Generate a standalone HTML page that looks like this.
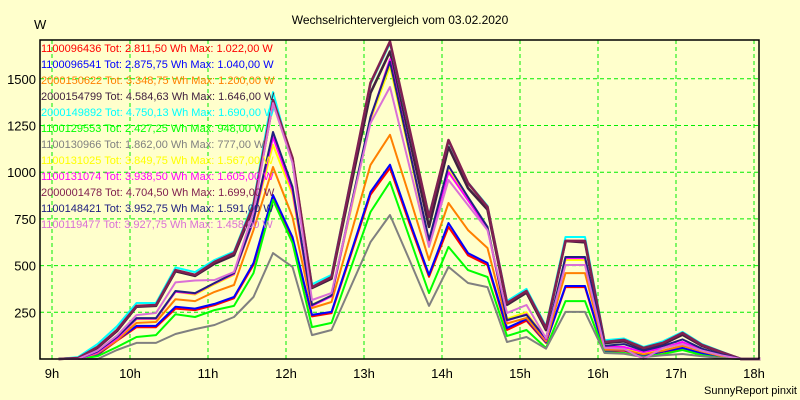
<!DOCTYPE html>
<html><head><meta charset="utf-8"><style>
body{margin:0;background:#ffffcc;}
svg{display:block;font-family:"Liberation Sans",Arial,sans-serif;}
</style></head><body>
<svg id="c" width="800" height="400">
<rect x="0" y="0" width="800" height="400" fill="#ffffcc"/>
<text x="400" y="24" text-anchor="middle" font-size="12">Wechselrichtervergleich vom 03.02.2020</text>
<text x="34" y="29" font-size="13">W</text>
<text x="797" y="394" text-anchor="end" font-size="11">SunnyReport pinxit</text>
<g id="grid"></g><g id="axes"></g><g id="series"></g><g id="legend"></g>
<rect x="40" y="40" width="719" height="319" fill="none" stroke="#000" stroke-width="1.5"/>
</svg>
<script>
const times=[];for(let i=0;i<37;i++)times.push(545+15*i); // minutes since 0:00 (9:05 .. 18:05)
const hourTicks=[9,10,11,12,13,14,15,16,17,18];
const yTicks=[250,500,750,1000,1250,1500];
const names=["1100096436","1100096541","2000150622","2000154799","2000149892","1100129553","1100130966","1100131025","1100131074","2000001478","1100148421","1100119477"];
const totals=["2.811,50","2.875,75","3.348,75","4.584,63","4.750,13","2.427,25","1.862,00","3.849,75","3.938,50","4.704,50","3.952,75","3.927,75"];
const maxes=["1.022,00","1.040,00","1.200,00","1.646,00","1.690,00","948,00","777,00","1.567,00","1.605,00","1.699,00","1.591,00","1.458,00"];
const colors=["#ff0000","#0000ff","#ff8000","#402040","#00ffff","#00ff00","#808080","#ffff00","#ff00ff","#802050","#202080","#da70d6"];
const sRed=[0,0,22,98,170,170,270,262,288,325,505,867,645,228,245,560,880,1022,725,440,707,555,503,155,205,86,385,385,40,45,18,38,55,28,8,0,0];
const sBlue=[0,0,25,102,177,177,280,270,295,332,514,878,653,236,252,570,894,1040,740,450,728,567,514,166,214,90,391,391,45,48,20,40,60,30,10,0,0];
const sOrange=[0,0,30,100,193,198,320,310,359,396,690,1028,760,273,305,670,1039,1200,870,530,835,690,594,190,220,95,460,460,50,50,25,45,70,40,15,0,0];
const sDark=[0,5,60,150,280,285,470,445,510,555,810,1375,1070,380,430,930,1424,1646,1180,707,1135,915,800,290,355,155,632,625,85,95,55,80,130,70,35,0,0];
const sCyan=[0,10,80,175,300,300,490,465,530,575,840,1429,1049,400,450,965,1470,1690,1220,770,1165,945,820,310,375,175,653,653,100,110,65,95,145,80,40,0,0];
const sGreen=[0,0,15,64,118,128,240,225,262,284,460,851,621,171,193,490,787,948,650,353,600,476,439,123,155,59,310,310,35,32,11,27,48,21,5,0,0];
const sGrey=[0,0,0,48,86,86,134,160,182,225,332,567,493,128,155,390,626,771,530,284,493,407,385,91,118,55,252,252,32,28,10,20,27,15,5,0,0];
const sYellow=[0,0,35,110,212,212,360,345,400,450,740,1146,880,290,340,800,1280,1567,1100,625,1010,855,705,215,250,105,530,530,65,60,35,55,88,45,20,0,0];
const sMagenta=[0,0,35,110,215,215,360,350,405,455,740,1188,900,285,335,810,1290,1605,1120,630,1000,850,700,205,240,105,540,540,65,64,37,59,91,48,21,0,0];
const sPurple=[0,5,64,155,284,289,476,450,520,567,824,1386,1076,385,439,958,1478,1699,1230,760,1172,942,814,300,364,166,632,632,91,102,59,86,139,75,37,0,0];
const sNavy=[0,0,40,118,219,219,364,353,407,460,745,1215,921,289,340,820,1296,1591,1115,637,1033,867,707,209,236,110,546,546,70,80,45,70,105,55,25,0,0];
const sOrchid=[0,0,45,125,235,246,410,420,423,466,787,1370,1049,316,353,810,1263,1456,1030,600,958,824,690,246,289,112,503,503,60,55,0,59,80,45,20,0,0];
const seriesData=[sRed,sBlue,sOrange,sDark,sCyan,sGreen,sGrey,sYellow,sMagenta,sPurple,sNavy,sOrchid];

const NS="http://www.w3.org/2000/svg";
function xs(min){return 52+(min-540)*78/60;}
function ys(v){return 359-v*0.1868;}
function mk(tag,attrs,parent){const e=document.createElementNS(NS,tag);for(const k in attrs)e.setAttribute(k,attrs[k]);parent.appendChild(e);return e;}
const grid=document.getElementById('grid'),axes=document.getElementById('axes'),ser=document.getElementById('series'),leg=document.getElementById('legend');
hourTicks.forEach(h=>{
  const x=xs(h*60);
  const l=mk('line',{x1:x,x2:x,y1:40,y2:359,stroke:'#00ee00','stroke-dasharray':'4,3','stroke-width':1},grid);
  
  
  const t=mk('text',{x:x,y:378,'text-anchor':'middle','font-size':13},axes);
  t.textContent=h+'h';
  
  
});
yTicks.forEach(v=>{
  const y=ys(v);
  const l=mk('line',{x1:40,x2:759,y1:y,y2:y,stroke:'#00ee00','stroke-dasharray':'4,3','stroke-width':1},grid);
  
  
  const t=mk('text',{x:36,y:y+5,'text-anchor':'end','font-size':13},axes);
  t.textContent=v;
  
  
});
seriesData.forEach((d,i)=>{
  const pts=d.map((v,j)=>xs(times[j]).toFixed(1)+','+ys(v).toFixed(1)).join(' ');
  const p=mk('polyline',{points:pts,fill:'none',stroke:colors[i],'stroke-width':(i===9||i===3)?2.6:2,'stroke-linejoin':'round'},ser);
  
  
});
names.forEach((n,i)=>{
  const t=mk('text',{x:41,y:52+i*16,'font-size':11,fill:colors[i]},leg);
  t.textContent=n+' Tot: '+totals[i]+' Wh Max: '+maxes[i]+' W';
  
  
});
</script>
</body></html>
